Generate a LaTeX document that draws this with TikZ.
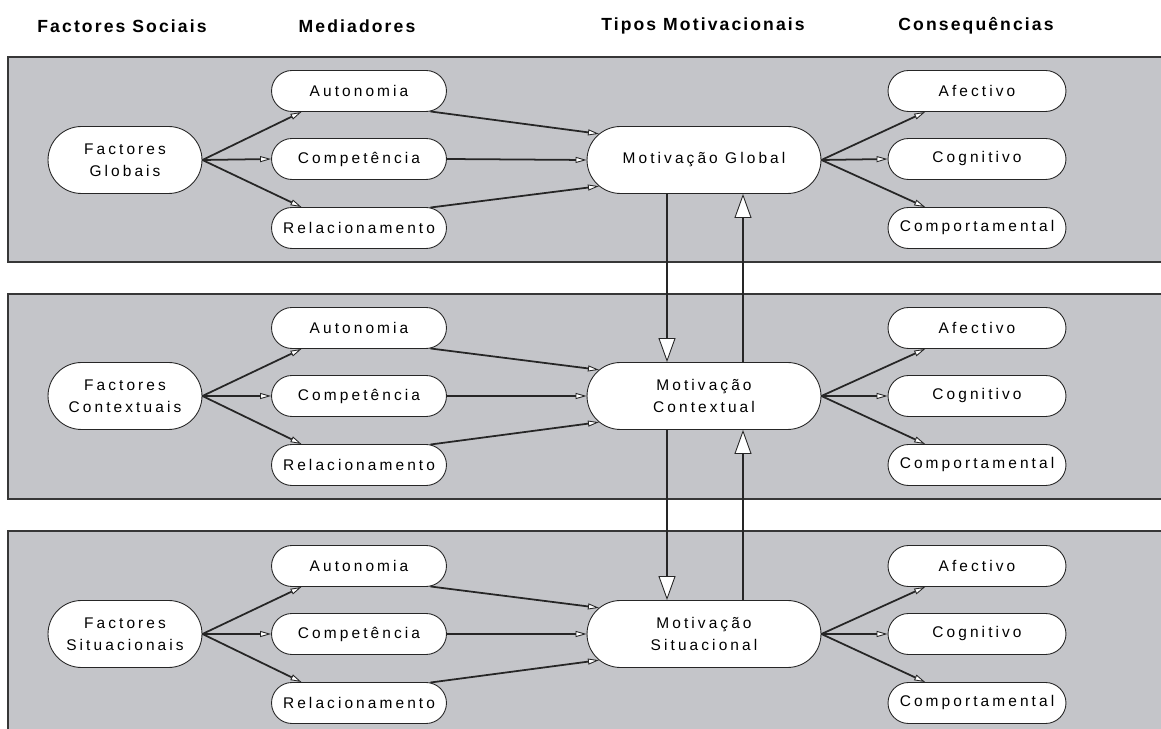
\documentclass[tikz,border=0pt]{standalone}
\usepackage{fontspec}
\usetikzlibrary{shapes.misc,arrows.meta}
\newfontfamily\boxfont[LetterSpace=20]{Liberation Sans}
\newfontfamily\headfont[LetterSpace=12]{Liberation Sans}
\definecolor{bandfill}{RGB}{196,197,201}
\definecolor{bandline}{RGB}{55,55,55}
\begin{document}
\begin{tikzpicture}[x=0.02cm,y=-0.02cm,
  head/.style={font=\headfont\bfseries\fontsize{10}{12}\selectfont},
  pill/.style={draw=black!85,line width=0.5pt,fill=white,rounded rectangle,inner sep=0pt,
    align=center,font=\boxfont\fontsize{8.8}{12.5}\selectfont},
  bigpill/.style={pill,minimum height=1.34cm},
  medpill/.style={pill,minimum width=3.5cm,minimum height=0.82cm},
  conpill/.style={pill,minimum width=3.56cm,minimum height=0.82cm},
  link/.style={line width=1pt,black!85,-{Triangle[fill=white,length=0.22cm,width=0.12cm,line width=0.5pt]}},
  level/.style={line width=1pt,black!85,-{Triangle[fill=white,length=0.48cm,width=0.34cm,line width=0.5pt]}}]
\useasboundingbox (0,0) rectangle (1161,729);

% bands
\fill[bandfill] (8,57) rectangle (1170,262);
\draw[bandline,line width=0.8pt] (1170,57) -- (8,57) -- (8,262) -- (1170,262);
\fill[bandfill] (8,294) rectangle (1170,499);
\draw[bandline,line width=0.8pt] (1170,294) -- (8,294) -- (8,499) -- (1170,499);
\fill[bandfill] (8,531) rectangle (1170,740);
\draw[bandline,line width=0.8pt] (1170,531) -- (8,531) -- (8,740);

% headers
\node[head] (h1) at (122,26) {Factores Sociais};
\node[head] (h2) at (357,26) {Mediadores};
\node[head] (h3) at (703,26) {Tipos Motivacionais};
\node[head] (h4) at (976,26) {Consequências};

% global
\node[bigpill,minimum width=3.08cm] (fac1) at (125,160) {Factores\\Globais};
\node[medpill] (aut1) at (359,91) {Autonomia};
\node[medpill] (com1) at (359,159) {Competência};
\node[medpill] (rel1) at (359,228) {Relacionamento};
\node[bigpill,minimum width=4.68cm] (mot1) at (704,160) {Motivação Global};
\node[conpill] (afe1) at (977,91) {Afectivo};
\node[conpill] (cog1) at (977,159) {Cognitivo};
\node[conpill] (cpt1) at (977,228) {Comportamental};

% contextual
\node[bigpill,minimum width=3.08cm] (fac2) at (125,396) {Factores\\Contextuais};
\node[medpill] (aut2) at (359,328) {Autonomia};
\node[medpill] (com2) at (359,396) {Competência};
\node[medpill] (rel2) at (359,465) {Relacionamento};
\node[bigpill,minimum width=4.68cm] (mot2) at (704,396) {Motivação\\Contextual};
\node[conpill] (afe2) at (977,328) {Afectivo};
\node[conpill] (cog2) at (977,396) {Cognitivo};
\node[conpill] (cpt2) at (977,465) {Comportamental};

% situacional
\node[bigpill,minimum width=3.08cm] (fac3) at (125,634) {Factores\\Situacionais};
\node[medpill] (aut3) at (359,566) {Autonomia};
\node[medpill] (com3) at (359,634) {Competência};
\node[medpill] (rel3) at (359,703) {Relacionamento};
\node[bigpill,minimum width=4.68cm] (mot3) at (704,634) {Motivação\\Situacional};
\node[conpill] (afe3) at (977,566) {Afectivo};
\node[conpill] (cog3) at (977,634) {Cognitivo};
\node[conpill] (cpt3) at (977,703) {Comportamental};

% arrows in each band
\draw[link] (fac1.east) -- (aut1.200);
\draw[link] (fac1.east) -- (com1.west);
\draw[link] (fac1.east) -- (rel1.160);
\draw[link] (aut1.-16) -- (mot1.166);
\draw[link] (com1.east) -- (mot1.west);
\draw[link] (rel1.16) -- (mot1.194);
\draw[link] (mot1.east) -- (afe1.202);
\draw[link] (mot1.east) -- (cog1.west);
\draw[link] (mot1.east) -- (cpt1.158);

\draw[link] (fac2.east) -- (aut2.200);
\draw[link] (fac2.east) -- (com2.west);
\draw[link] (fac2.east) -- (rel2.160);
\draw[link] (aut2.-16) -- (mot2.166);
\draw[link] (com2.east) -- (mot2.west);
\draw[link] (rel2.16) -- (mot2.194);
\draw[link] (mot2.east) -- (afe2.202);
\draw[link] (mot2.east) -- (cog2.west);
\draw[link] (mot2.east) -- (cpt2.158);

\draw[link] (fac3.east) -- (aut3.200);
\draw[link] (fac3.east) -- (com3.west);
\draw[link] (fac3.east) -- (rel3.160);
\draw[link] (aut3.-16) -- (mot3.166);
\draw[link] (com3.east) -- (mot3.west);
\draw[link] (rel3.16) -- (mot3.194);
\draw[link] (mot3.east) -- (afe3.202);
\draw[link] (mot3.east) -- (cog3.west);
\draw[link] (mot3.east) -- (cpt3.158);

% between levels
\draw[level] ([xshift=-0.74cm]mot1.south) -- ([xshift=-0.74cm]mot2.north);
\draw[level] ([xshift=0.78cm]mot2.north) -- ([xshift=0.78cm]mot1.south);
\draw[level] ([xshift=-0.74cm]mot2.south) -- ([xshift=-0.74cm]mot3.north);
\draw[level] ([xshift=0.78cm]mot3.north) -- ([xshift=0.78cm]mot2.south);
\end{tikzpicture}
\end{document}
